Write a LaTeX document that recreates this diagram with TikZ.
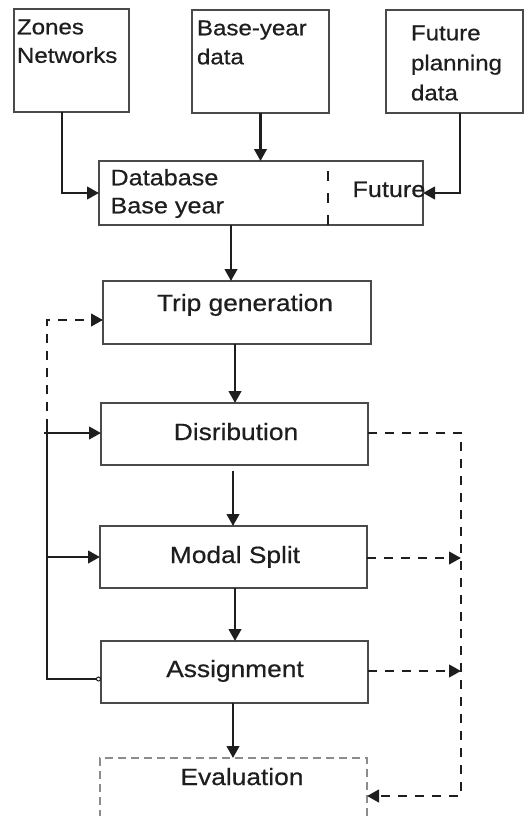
\documentclass[tikz,border=0pt]{standalone}
\usepackage{fontspec}
\setmainfont{Liberation Sans}[FakeStretch=1.12,FakeBold=0.6]
\usetikzlibrary{arrows.meta}
\definecolor{ink}{HTML}{1E1E1E}
\definecolor{frame}{HTML}{4A4A4A}
\definecolor{evalgray}{HTML}{8C8C8C}
\begin{document}
\begin{tikzpicture}[x=1pt,y=-1pt,
  box/.style={draw=frame, line width=1.1pt, inner sep=0pt, outer sep=0pt, anchor=north west},
  lbl/.style={text=ink, inner sep=0pt, outer sep=0pt},
  conn/.style={draw=ink, line width=2.6pt},
  arr/.style={conn, -{Triangle[length=12pt,width=12.5pt]}},
  dconn/.style={conn, dash pattern=on 9pt off 8pt},
  darr/.style={dconn, -{Triangle[length=12pt,width=12.5pt]}},
  smallfont/.style={font=\fontsize{21.5}{28.5}\selectfont},
  midfont/.style={font=\fontsize{22.5}{28}\selectfont},
  bigfont/.style={font=\fontsize{23.5}{28}\selectfont}]
\useasboundingbox (0,0) rectangle (527,816);
\clip (0,0) rectangle (527,816);

% input boxes
\node[box, minimum width=115pt, minimum height=103pt] (zones)  at (14,9)   {};
\node[box, minimum width=137pt, minimum height=103pt] (base)   at (192,10) {};
\node[box, minimum width=137pt, minimum height=103pt] (future) at (386,10) {};
\node[lbl, smallfont, anchor=north west, align=left] (zonestxt) at (17,19.5) {Zones\\Networks};
\node[lbl, font=\fontsize{21.5}{29}\selectfont, anchor=north west, align=left] (basetxt) at (197,20.5) {Base-year\\data};
\node[lbl, font=\fontsize{21.5}{30}\selectfont, anchor=north west, align=left] (futtxt) at (411,25.5) {Future\\planning\\data};

% database
\node[box, minimum width=324pt, minimum height=64pt] (db) at (99,161) {};
\draw[ink, line width=2.4pt, dash pattern=on 10pt off 12pt] (328,171) -- (db.south -| 328,0);
\node[lbl, midfont, anchor=north west, align=left] (dbtxt) at (110.5,169) {Database\\Base year};
\node[lbl, midfont, anchor=base west] (dbfut) at (352.5,197) {Future};

% model stages
\node[box, minimum width=268pt, minimum height=63pt] (trip)   at (103,281) {};
\node[box, minimum width=267pt, minimum height=62pt] (dist)   at (101,403) {};
\node[box, minimum width=267pt, minimum height=62pt] (modal)  at (100,526) {};
\node[box, minimum width=267pt, minimum height=62pt] (assign) at (101,641) {};
\node[box, draw=evalgray, dash pattern=on 8pt off 5pt, minimum width=267pt, minimum height=90pt] (eval) at (100,758) {};

\node[lbl, bigfont, anchor=base] (triptxt)   at (245,311) {Trip generation};
\node[lbl, bigfont, anchor=base] (disttxt)   at (236,440) {Disribution};
\node[lbl, bigfont, anchor=base] (modaltxt)  at (235,563) {Modal Split};
\node[lbl, bigfont, anchor=base] (assigntxt) at (235,677) {Assignment};
\node[lbl, bigfont, anchor=base] (evaltxt)   at (242,785) {Evaluation};

% inputs into the database
\draw[arr] (zones.south -| 62,0) |- (db.west);
\draw[arr] (base.south) -- (base.south |- db.north);
\draw[arr] (future.south -| 460,0) |- (db.east);

% main chain
\draw[arr] (db.south -| 231,0) -- (trip.north -| 231,0);
\draw[arr] (trip.south -| 235,0) -- (dist.north -| 235,0);
\draw[arr, shorten <=6pt] (dist.south -| 233,0) -- (modal.north -| 233,0);
\draw[arr] (modal.south -| 235,0) -- (assign.north -| 235,0);
\draw[arr] (assign.south -| 233,0) -- (eval.north -| 233,0);

% feedback loop on the left
\coordinate (fb)  at (47,428);
\coordinate (fbd) at (44,433);
\draw[darr] (fb) |- (trip.west |- 0,320);
\draw[conn, {Circle[open,length=5pt,width=5pt,line width=1pt]}-] (assign.west |- 0,679) -| (fb);
\draw[arr] (fbd) -- (dist.west |- fbd);
\draw[arr] (fb |- modal.west) -- (modal.west);

% results to evaluation on the right
\coordinate (rt) at (461,433);
\draw[darr] (dist.east |- rt) -- (rt) |- (eval.east |- 0,796);
\draw[darr] (modal.east |- 0,558) -- (rt |- 0,558);
\draw[darr] (assign.east |- 0,671) -- (rt |- 0,671);
\end{tikzpicture}
\end{document}
